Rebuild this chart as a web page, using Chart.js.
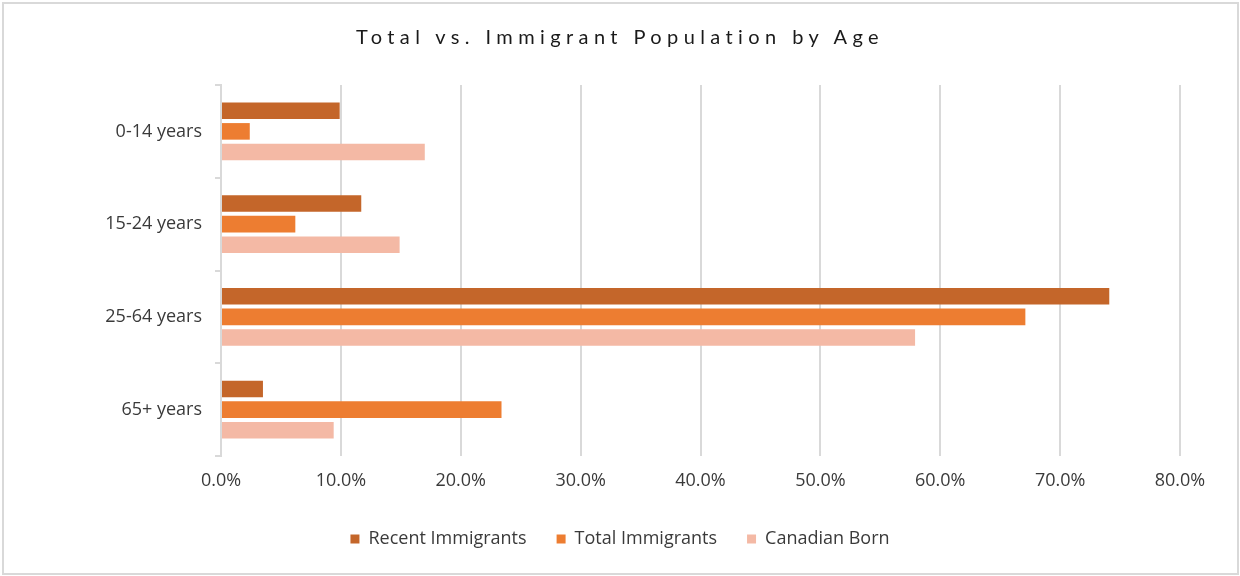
<!DOCTYPE html>
<html>
<head>
<meta charset="utf-8">
<script src="https://cdn.jsdelivr.net/npm/chart.js@4.4.1/dist/chart.umd.min.js"></script>
<style>
  html, body { margin: 0; padding: 0; background: #ffffff; }
  #wrap { position: relative; width: 1240px; height: 576px; background: #ffffff; }
  #frame { position: absolute; left: 2px; top: 2px; right: 1px; bottom: 1px; border: 2px solid #D9D9D9; box-sizing: border-box; pointer-events: none; }
  #title { position: absolute; left: 0; top: 24px; width: 1240px; text-align: center;
           font-family: Lato, "Open Sans", sans-serif; font-size: 20px; letter-spacing: 5.4px; color: #1a1a1a; }
  #c { position: absolute; left: 0; top: 0; }
</style>
</head>
<body>
<div id="wrap">
  <canvas id="c" width="1240" height="576"></canvas>
  <div id="title">Total vs. Immigrant Population by Age</div>
  <div id="frame"></div>
</div>
<script>
// Age groups and shares of each population (percent)
const ageGroups = ['0-14 years', '15-24 years', '25-64 years', '65+ years'];
const recentImmigrants = [9.9, 11.7, 74.1, 3.5];
const totalImmigrants = [2.4, 6.2, 67.1, 23.4];
const canadianBorn = [17.0, 14.9, 57.9, 9.4];
const xTicks = [0, 10, 20, 30, 40, 50, 60, 70, 80];

const seriesNames = ['Recent Immigrants', 'Total Immigrants', 'Canadian Born'];
const seriesColors = ['#C4662A', '#ED7D31', '#F4B9A5'];

const fontFamily = '"Open Sans", Lato, sans-serif';
const textColor = '#3a3a3a';
const gridColor = '#D9D9D9';

// Pin the plot area edges so the layout stays fixed
const PLOT_LEFT = 221;
const PLOT_BOTTOM = 456;

// Place the legend row below the plot, centred on the full canvas width
const legendPlace = {
  id: 'legendPlace',
  afterLayout(chart) {
    const lg = chart.legend;
    if (!lg) return;
    const h = lg.bottom - lg.top;
    lg.top = chart.chartArea.bottom + 44;
    lg.bottom = lg.top + h;
    lg.left = 0;
    lg.right = chart.width;
    lg.width = chart.width;
  }
};

new Chart(document.getElementById('c'), {
  type: 'bar',
  data: {
    labels: ageGroups,
    datasets: [recentImmigrants, totalImmigrants, canadianBorn].map((vals, i) => ({
      label: seriesNames[i],
      data: vals,
      backgroundColor: seriesColors[i],
      borderWidth: 0,
      categoryPercentage: 0.67,
      barPercentage: 0.8
    }))
  },
  options: {
    indexAxis: 'y',
    responsive: false,
    animation: false,
    devicePixelRatio: 1,
    layout: { padding: { top: 85, right: 60, left: 0, bottom: 0 } },
    plugins: {
      title: { display: false },
      tooltip: { enabled: false },
      legend: {
        position: 'bottom',
        labels: {
          boxWidth: 9,
          boxHeight: 9,
          padding: 30,
          color: textColor,
          font: { family: fontFamily, size: 18 }
        }
      }
    },
    scales: {
      x: {
        min: 0,
        max: 80,
        afterBuildTicks: (axis) => { axis.ticks = xTicks.map(v => ({ value: v })); },
        afterFit: (axis) => { axis.height = 576 - PLOT_BOTTOM - (axis.chart.legend ? axis.chart.legend.height : 0); },
        ticks: {
          padding: 14,
          color: textColor,
          font: { family: fontFamily, size: 18 },
          callback: (v) => Number(v).toFixed(1) + '%'
        },
        grid: { color: gridColor, lineWidth: 2, drawTicks: false },
        border: { display: false }
      },
      y: {
        afterFit: (axis) => { axis.width = PLOT_LEFT; },
        ticks: {
          padding: 13,
          color: textColor,
          font: { family: fontFamily, size: 18 }
        },
        grid: { drawOnChartArea: false, drawTicks: true, tickLength: 6, color: gridColor, lineWidth: 2, offset: true },
        border: { display: true, color: gridColor, width: 2 }
      }
    }
  },
  plugins: [legendPlace]
});
</script>
</body>
</html>
